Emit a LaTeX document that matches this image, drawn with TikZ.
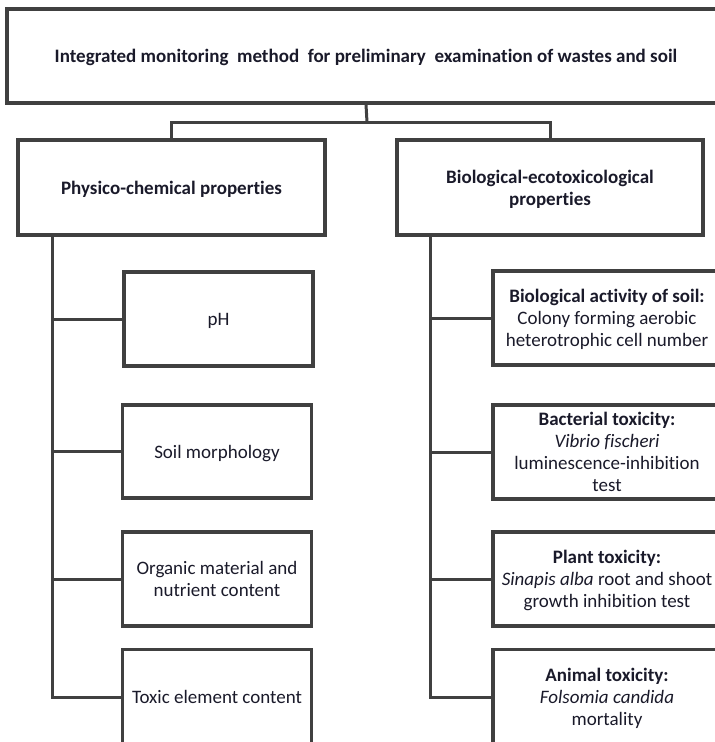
\documentclass[tikz,border=0pt]{standalone}
\usepackage{fontspec}
\setmainfont{Carlito}[RawFeature={-liga}]
\definecolor{ln}{HTML}{404040}
\definecolor{tx}{HTML}{1A1A2A}
\begin{document}
\begin{tikzpicture}[x=1pt,y=-1pt,
  box/.style={draw=ln,line width=3.2pt,fill=white,inner sep=2pt,align=center,text=tx,
    text depth=-1pt,font=\fontsize{19}{22}\selectfont},
  conn/.style={draw=ln,line width=3pt}]
\useasboundingbox (0,0) rectangle (715,742);
\clip (0,0) rectangle (715,742);
\fill[white] (0,0) rectangle (715,742);
% nodes
\node[box,minimum width=718,minimum height=94] (top) at (366,56)
  {\bfseries Integrated monitoring\ \ method\ \ for preliminary\ \ examination of wastes\ and soil};
\node[box,minimum width=307,minimum height=95] (phys) at (171.5,187.5)
  {\bfseries Physico-chemical properties};
\node[box,minimum width=306,minimum height=95] (bio) at (550,187.5)
  {\bfseries Biological-ecotoxicological\\ \bfseries properties};
\node[box,minimum width=189,minimum height=94] (ph) at (218.5,319) {pH};
\node[box,minimum width=189,minimum height=93] (soil) at (217,451.5) {Soil morphology};
\node[box,minimum width=189,minimum height=94] (org) at (217,579) {Organic material\ and\\ nutrient\ content};
\node[box,minimum width=189,minimum height=95] (tox) at (217,697) {Toxic element\ content};
\node[box,minimum width=228,minimum height=94] (bact1) at (607,318)
  {\textbf{Biological activity of soil:}\\ Colony forming aerobic\\ heterotrophic cell number};
\node[box,minimum width=228,minimum height=94] (bact2) at (607,452)
  {\textbf{Bacterial toxicity:}\\ \textit{Vibrio fischeri}\\ luminescence-inhibition\\ test};
\node[box,minimum width=228,minimum height=94] (plant) at (607,579)
  {\textbf{Plant toxicity:}\\ \textit{Sinapis alba} root and shoot\\ growth inhibition\ test};
\node[box,minimum width=228,minimum height=95] (animal) at (607,697)
  {\textbf{Animal toxicity:}\\ \textit{Folsomia\ candida}\\ mortality};
% connectors
\coordinate (j) at (367,122);
\coordinate (lt) at (52,0);
\coordinate (rt) at (430,0);
\draw[conn] (top.south) -- (j);
\draw[conn] (phys.north) |- (j) -| (bio.north);
\draw[conn] (phys.south -| lt) |- (tox.west);
\draw[conn] (lt |- ph.west) -- (ph.west);
\draw[conn] (lt |- soil.west) -- (soil.west);
\draw[conn] (lt |- org.west) -- (org.west);
\draw[conn] (bio.south -| rt) |- (animal.west);
\draw[conn] (rt |- bact1.west) -- (bact1.west);
\draw[conn] (rt |- bact2.west) -- (bact2.west);
\draw[conn] (rt |- plant.west) -- (plant.west);
\end{tikzpicture}
\end{document}
